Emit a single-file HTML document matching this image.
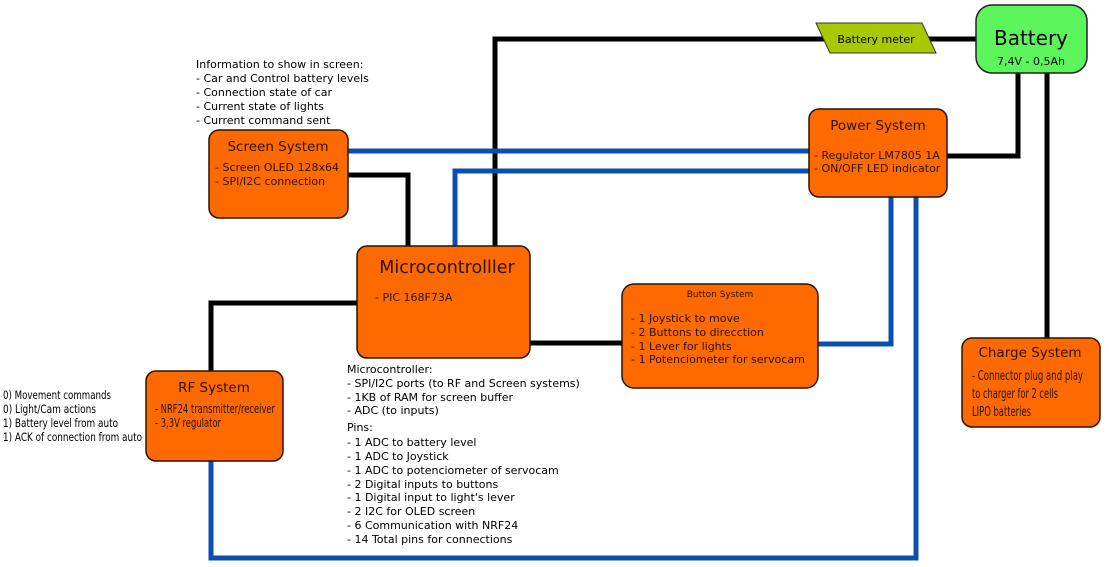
<!DOCTYPE html>
<html><head><meta charset="utf-8"><style>
html,body{margin:0;padding:0;background:#fff;width:1109px;height:567px;overflow:hidden}
svg text{font-family:"DejaVu Sans","Liberation Sans",sans-serif;fill:#000}
.b text{fill:#2a1000}
</style></head><body>
<svg width="1109" height="567" viewBox="0 0 1109 567" xmlns="http://www.w3.org/2000/svg">
<g fill="none" stroke-width="5">
<polyline stroke="#000" points="495,246 495,39 976,39"/>
<polyline stroke="#0a4fb0" points="348,151 809,151"/>
<polyline stroke="#0a4fb0" points="455,246 455,171 809,171"/>
<polyline stroke="#000" points="348,175 408,175 408,246"/>
<polyline stroke="#000" points="947,156 1018,156 1018,73"/>
<polyline stroke="#000" points="1047,73 1047,338"/>
<polyline stroke="#000" points="357,303 211,303 211,371"/>
<polyline stroke="#000" points="530,343 622,343"/>
<polyline stroke="#0a4fb0" points="817,344 891,344 891,197"/>
<polyline stroke="#0a4fb0" points="211,461 211,558 916,558 916,197"/>
</g>
<polygon points="816,23 922,23 936,53 830,53" fill="#a8c800" stroke="#333" stroke-width="1"/>
<text x="876" y="43" font-size="11" text-anchor="middle" fill="#222">Battery meter</text>
<rect x="976" y="5" width="111" height="68" rx="16" fill="#5cf55c" stroke="#222" stroke-width="1.5"/>
<text x="1031" y="45" font-size="20" text-anchor="middle">Battery</text>
<text x="1031" y="65" font-size="11" text-anchor="middle">7,4V - 0,5Ah</text>
<g fill="#ff6a00" stroke="#2a1200" stroke-width="1.5">
<rect x="809" y="109" width="138" height="88" rx="10"/>
<rect x="209" y="130" width="139" height="88" rx="10"/>
<rect x="357" y="246" width="173" height="112" rx="10"/>
<rect x="146" y="371" width="137" height="90" rx="10"/>
<rect x="622" y="284" width="196" height="104" rx="12"/>
<rect x="962" y="338" width="138" height="89" rx="10"/>
</g>
<g class="b">
<text x="878" y="130" font-size="13.5" text-anchor="middle">Power System</text>
<text x="814" y="159" font-size="11">- Regulator LM7805 1A</text>
<text x="814" y="172" font-size="11">- ON/OFF LED indicator</text>
<text x="278" y="151" font-size="13.5" text-anchor="middle">Screen System</text>
<text x="215" y="171" font-size="11">- Screen OLED 128x64</text>
<text x="215" y="185" font-size="11">- SPI/I2C connection</text>
<text x="447" y="273" font-size="17.5" text-anchor="middle">Microcontrolller</text>
<text x="375" y="301" font-size="11">- PIC 168F73A</text>
<text x="214" y="392" font-size="13.5" text-anchor="middle">RF System</text>
<text x="155" y="413" font-size="12" textLength="120" lengthAdjust="spacingAndGlyphs">- NRF24 transmitter/receiver</text>
<text x="155" y="427" font-size="12" textLength="66" lengthAdjust="spacingAndGlyphs">- 3,3V regulator</text>
<text x="720" y="297" font-size="9" text-anchor="middle">Button System</text>
<text x="631" y="322" font-size="11">- 1 Joystick to move</text>
<text x="631" y="336" font-size="11">- 2 Buttons to direcction</text>
<text x="631" y="350" font-size="11">- 1 Lever for lights</text>
<text x="631" y="363" font-size="11">- 1 Potenciometer for servocam</text>
<text x="1030" y="357" font-size="13.5" text-anchor="middle">Charge System</text>
<text x="972" y="380" font-size="13" textLength="111" lengthAdjust="spacingAndGlyphs">- Connector plug and play</text>
<text x="972" y="398" font-size="13" textLength="86" lengthAdjust="spacingAndGlyphs">to charger for 2 cells</text>
<text x="972" y="416" font-size="13" textLength="59" lengthAdjust="spacingAndGlyphs">LIPO batteries</text>
</g>
<g font-size="11">
<text x="196" y="68">Information to show in screen:</text>
<text x="196" y="82">- Car and Control battery levels</text>
<text x="196" y="96">- Connection state of car</text>
<text x="196" y="110">- Current state of lights</text>
<text x="196" y="124">- Current command sent</text>
<text x="347" y="373">Microcontroller:</text>
<text x="347" y="387">- SPI/I2C ports (to RF and Screen systems)</text>
<text x="347" y="401">- 1KB of RAM for screen buffer</text>
<text x="347" y="414">- ADC (to inputs)</text>
<text x="347" y="431">Pins:</text>
<text x="347" y="446">- 1 ADC to battery level</text>
<text x="347" y="460">- 1 ADC to Joystick</text>
<text x="347" y="474">- 1 ADC to potenciometer of servocam</text>
<text x="347" y="488">- 2 Digital inputs to buttons</text>
<text x="347" y="501">- 1 Digital input to light's lever</text>
<text x="347" y="515">- 2 I2C for OLED screen</text>
<text x="347" y="529">- 6 Communication with NRF24</text>
<text x="347" y="543">- 14 Total pins for connections</text>
</g>
<g font-size="11.5">
<text x="3" y="399" textLength="108" lengthAdjust="spacingAndGlyphs">0) Movement commands</text>
<text x="3" y="413" textLength="93" lengthAdjust="spacingAndGlyphs">0) Light/Cam actions</text>
<text x="3" y="427" textLength="115" lengthAdjust="spacingAndGlyphs">1) Battery level from auto</text>
<text x="3" y="441" textLength="139" lengthAdjust="spacingAndGlyphs">1) ACK of connection from auto</text>
</g>
</svg>
</body></html>
